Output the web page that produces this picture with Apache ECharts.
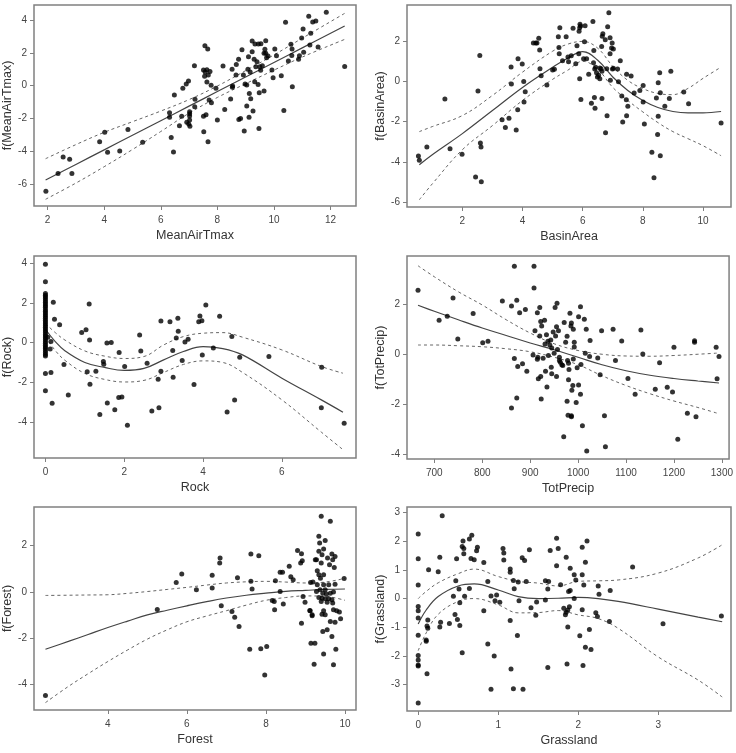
<!DOCTYPE html>
<html><head><meta charset="utf-8">
<script src="https://cdn.jsdelivr.net/npm/echarts@6/dist/echarts.min.js"></script>
<style>html,body{margin:0;padding:0;background:#fff}#c{width:736px;height:753px}</style>
</head><body><div id="c"></div>
<script>
// ---------- Panel 1: MeanAirTmax ----------
const airPts = [[1.94,-6.45],[2.37,-5.36],[2.55,-4.36],[2.78,-4.5],[2.86,-5.36],[3.84,-3.42],[4.02,-2.85],[4.12,-4.07],[4.55,-3.99],[4.84,-2.67],[5.36,-3.46],[6.31,-1.65],[6.31,-1.93],[6.37,-3.16],[6.45,-4.05],[6.48,-0.57],[6.66,-2.44],[6.74,-1.87],[6.78,-0.16],[6.9,0.1],[6.92,-2.24],[6.98,0.29],[6.99,-2.34],[7.02,-1.59],[7.02,-1.71],[7.02,-1.85],[7.02,-2.1],[7.03,-2.48],[7.19,1.22],[7.21,-0.83],[7.2,-1.28],[7.52,-2.81],[7.51,-1.87],[7.51,0.96],[7.55,0.57],[7.56,2.44],[7.57,0.83],[7.6,-1.77],[7.63,0.98],[7.63,0.22],[7.66,2.24],[7.67,-3.42],[7.68,0.65],[7.71,-0.88],[7.74,0.86],[7.78,0.02],[7.79,-1.04],[7.95,-0.16],[8.0,-2.1],[8.2,1.2],[8.26,-1.45],[8.47,-0.81],[8.52,1.0],[8.53,-0.1],[8.54,-0.02],[8.67,1.3],[8.66,0.65],[8.75,1.61],[8.76,-2.06],[8.82,-2.0],[8.87,2.2],[8.92,0.65],[8.95,-2.77],[8.98,0.1],[9.04,0.04],[9.04,-1.24],[9.1,1.77],[9.08,1.0],[9.12,-1.93],[9.13,-0.47],[9.16,0.83],[9.18,-0.79],[9.23,2.73],[9.23,2.08],[9.26,-1.55],[9.3,1.61],[9.32,0.24],[9.33,2.55],[9.36,1.16],[9.4,1.47],[9.44,0.08],[9.45,2.55],[9.47,-2.61],[9.48,-0.43],[9.5,1.16],[9.53,0.94],[9.54,2.57],[9.59,1.22],[9.65,1.98],[9.65,-0.33],[9.68,2.22],[9.71,2.75],[9.71,1.98],[9.74,1.71],[9.79,1.81],[9.93,0.96],[9.97,0.49],[10.03,2.24],[10.09,1.83],[10.26,0.61],[10.35,-1.51],[10.41,3.87],[10.51,1.51],[10.6,2.53],[10.63,1.85],[10.64,2.24],[10.65,-0.06],[10.87,1.61],[10.9,1.83],[10.98,2.91],[11.03,3.46],[11.05,2.04],[11.23,4.24],[11.27,2.49],[11.3,3.2],[11.37,3.89],[11.48,3.95],[11.56,2.36],[11.85,4.48],[12.5,1.18]];
const airCx  = [1.93, 3, 4, 5, 6, 7, 8, 9, 10, 11, 12.5];
const airFit = [-5.76, -4.81, -3.92, -3.03, -2.14, -1.25, -0.36, 0.53, 1.42, 2.31, 3.65];
const airUp  = [-4.46, -3.6, -2.85, -2.2, -1.55, -0.85, -0.02, 0.92, 1.88, 2.9, 4.42];
const airLo  = [-6.94, -5.95, -4.95, -3.9, -2.8, -1.68, -0.72, 0.12, 0.95, 1.75, 2.83];
const airXTicks = [2, 4, 6, 8, 10, 12];
const airYTicks = [-6, -4, -2, 0, 2, 4];

// ---------- Panel 2: BasinArea ----------
const basinPts = [[0.54,-3.71],[0.57,-3.93],[0.82,-3.27],[1.42,-0.88],[1.59,-3.35],[1.99,-3.62],[2.44,-4.76],[2.52,-0.48],[2.58,1.29],[2.6,-3.07],[2.62,-3.27],[2.63,-4.99],[3.32,-1.91],[3.43,-2.29],[3.55,-1.83],[3.62,0.71],[3.63,-0.13],[3.79,-2.42],[3.84,-1.41],[3.85,1.13],[3.99,0.86],[4.04,0.0],[4.05,-1.03],[4.09,-0.51],[4.36,1.91],[4.44,1.91],[4.48,1.91],[4.54,2.14],[4.57,1.56],[4.58,0.63],[4.62,0.28],[4.81,-0.18],[5.0,0.56],[5.06,0.6],[5.19,2.22],[5.22,1.38],[5.21,1.69],[5.24,2.67],[5.33,1.03],[5.45,2.22],[5.53,0.98],[5.51,1.21],[5.62,1.28],[5.68,2.64],[5.77,0.88],[5.81,1.77],[5.87,1.38],[5.88,2.5],[5.9,0.13],[5.9,2.67],[5.91,2.84],[5.94,-0.9],[5.93,2.75],[6.08,2.77],[6.06,1.97],[6.03,1.13],[6.13,1.13],[6.2,0.35],[6.29,-1.09],[6.34,2.98],[6.36,0.93],[6.39,-0.8],[6.37,1.54],[6.41,-1.34],[6.4,0.61],[6.43,0.7],[6.46,0.43],[6.49,0.22],[6.53,0.3],[6.57,0.66],[6.57,0.13],[6.61,0.63],[6.63,1.74],[6.64,0.5],[6.64,-0.85],[6.65,2.24],[6.67,2.37],[6.75,2.07],[6.76,-2.55],[6.8,0.63],[6.81,-1.71],[6.83,2.72],[6.87,3.42],[6.91,2.17],[6.91,1.38],[6.92,0.05],[6.96,1.66],[6.98,1.91],[6.99,0.61],[7.02,1.61],[7.02,0.65],[7.16,0.61],[7.19,-0.02],[7.25,1.03],[7.3,-0.73],[7.33,-2.02],[7.45,-0.91],[7.46,0.35],[7.46,-1.71],[7.5,-1.24],[7.61,0.27],[7.71,-0.58],[7.9,-0.45],[8.01,-0.2],[8.01,-1.03],[8.05,-2.12],[8.3,-3.53],[8.37,-4.79],[8.45,-0.83],[8.49,-2.64],[8.51,-1.74],[8.51,-0.07],[8.56,0.43],[8.58,-3.7],[8.58,-0.56],[8.73,-1.24],[8.88,-0.85],[8.93,0.51],[9.36,-0.53],[9.52,-1.11],[10.6,-2.07]];
const basinCx  = [0.57, 1, 2, 3, 4, 5, 5.5, 6, 6.5, 7, 7.5, 8, 8.5, 9, 9.5, 10, 10.6];
const basinFit = [-4.15, -3.65, -2.6, -1.45, -0.3, 0.7, 1.15, 1.48, 1.05, 0.22, -0.45, -0.95, -1.3, -1.5, -1.57, -1.57, -1.5];
const basinUp  = [-2.5, -2.25, -1.7, -0.7, 0.46, 1.5, 1.85, 1.99, 1.65, 0.75, 0.05, -0.36, -0.6, -0.66, -0.35, 0.15, 0.71];
const basinLo  = [-5.89, -5.1, -3.4, -2.2, -0.95, 0.1, 0.55, 1.0, 0.6, -0.3, -0.95, -1.52, -2.05, -2.5, -2.85, -3.2, -3.7];
const basinXTicks = [2, 4, 6, 8, 10];
const basinYTicks = [-6, -4, -2, 0, 2];

// ---------- Panel 3: Rock ----------
const rockZeroY = [3.93, 3.05, 2.47, 2.38, 2.3, 2.21, 2.12, 2.02, 1.94, 1.85, 1.77, 1.66, 1.58, 1.49, 1.4, 1.31, 1.22, 1.12, 1.03, 0.95, 0.86, 0.77, 0.68, 0.6, 0.5, 0.41, 0.33, 0.24, 0.15, 0.06, -0.03, -0.13, -0.22, -0.3, -0.4, -0.5, -0.6, -0.68, -1.55, -2.42];
const rockPts = [[0.06,0.27],[0.12,-0.32],[0.14,0.05],[0.14,-1.51],[0.17,-3.05],[0.2,2.02],[0.23,1.17],[0.36,0.9],[0.47,-1.1],[0.58,-2.64],[0.92,0.5],[1.03,0.65],[1.06,-1.46],[1.11,1.94],[1.12,0.13],[1.13,-2.1],[1.28,-1.44],[1.38,-3.61],[1.47,-0.95],[1.48,-1.09],[1.56,-0.02],[1.57,-3.04],[1.67,0.0],[1.76,-3.38],[1.87,-0.5],[1.86,-2.76],[1.94,-2.73],[2.01,-1.2],[2.08,-4.16],[2.39,0.38],[2.42,-0.42],[2.58,-1.04],[2.7,-3.44],[2.86,-1.84],[2.88,-3.28],[2.93,-1.44],[2.93,1.09],[3.16,1.04],[3.23,-0.4],[3.24,-1.74],[3.32,0.23],[3.36,1.22],[3.37,0.57],[3.47,-0.9],[3.54,0.03],[3.62,0.17],[3.77,-2.11],[3.89,1.05],[3.92,1.34],[3.97,1.1],[3.98,-0.62],[4.07,1.89],[4.26,-0.27],[4.42,1.32],[4.61,-3.49],[4.73,0.3],[4.8,-2.89],[4.93,-0.74],[5.67,-0.7],[7.01,-1.24],[7.0,-3.28],[7.58,-4.05]];
const rockCx  = [0, 0.25, 0.5, 1, 1.5, 2, 2.5, 3, 3.5, 4, 4.5, 5, 6, 7, 7.55];
const rockFit = [0.67, 0.05, -0.42, -1.0, -1.25, -1.4, -1.3, -0.87, -0.45, -0.2, -0.3, -0.62, -1.79, -2.88, -3.5];
const rockUp  = [0.96, 0.5, 0.12, -0.42, -0.68, -0.8, -0.7, -0.12, 0.3, 0.47, 0.5, 0.27, -0.37, -1.2, -1.54];
const rockLo  = [0.29, -0.4, -0.9, -1.55, -1.85, -1.98, -1.9, -1.5, -1.1, -0.92, -1.0, -1.5, -2.88, -4.5, -5.38];
const rockXTicks = [0, 2, 4, 6];
const rockYTicks = [-4, -2, 0, 2, 4];

// ---------- Panel 4: TotPrecip ----------
const precipPts = [[666,2.56],[710,1.36],[727,1.52],[739,2.25],[749,0.61],[781,1.63],[801,0.46],[812,0.52],[842,2.13],[861,1.93],[861,-2.15],[867,3.52],[867,-0.17],[872,2.16],[872,-1.75],[874,-0.49],[878,1.66],[884,-0.38],[890,1.79],[893,-0.68],[906,-0.03],[908,3.52],[908,2.65],[910,0.94],[915,1.66],[916,-0.12],[915,-0.2],[917,-0.98],[920,1.87],[920,0.73],[922,1.31],[922,-0.89],[923,-1.79],[924,1.13],[927,-0.16],[930,1.36],[931,0.41],[932,-0.68],[934,0.78],[935,-1.31],[937,0.52],[938,-0.05],[941,0.37],[943,0.57],[944,-0.52],[945,-0.78],[945,0.25],[948,0.89],[950,0.04],[952,1.87],[953,0.73],[955,-0.89],[955,1.1],[956,2.04],[957,0.19],[959,0.94],[961,-0.12],[961,-0.25],[963,-0.32],[966,-0.42],[968,-0.45],[970,-3.3],[971,1.27],[974,0.48],[977,0.72],[977,-1.88],[978,-0.25],[979,-2.44],[980,-1.02],[980,-0.36],[981,-0.61],[983,1.64],[985,1.13],[986,-2.46],[986,-2.5],[986,1.25],[987,-1.44],[989,-1.25],[990,1.0],[990,-0.19],[992,0.48],[992,0.29],[996,-1.93],[998,-0.54],[1001,-1.23],[1001,1.5],[1005,1.9],[1005,-1.6],[1006,-0.41],[1009,-2.86],[1013,1.4],[1015,0.04],[1017,1.0],[1018,-3.87],[1024,-0.09],[1025,0.55],[1041,-0.15],[1046,-0.82],[1049,0.94],[1055,-2.46],[1057,-3.7],[1073,1.0],[1078,-0.25],[1091,0.53],[1104,-0.97],[1119,-1.6],[1131,0.97],[1135,0.01],[1161,-1.4],[1170,-0.34],[1186,-1.32],[1197,-1.51],[1200,0.28],[1208,-3.4],[1228,-2.36],[1243,0.54],[1243,0.48],[1246,-2.5],[1288,0.28],[1290,-0.98],[1294,-0.09]];
const precipCx  = [666, 700, 750, 800, 850, 900, 950, 1000, 1050, 1100, 1150, 1200, 1250, 1294];
const precipFit = [1.96, 1.72, 1.38, 1.05, 0.75, 0.45, 0.18, -0.12, -0.42, -0.66, -0.84, -0.97, -1.07, -1.15];
const precipUp  = [3.54, 3.1, 2.5, 1.97, 1.38, 0.85, 0.42, 0.15, 0.0, -0.07, -0.08, -0.05, 0.0, 0.05];
const precipLo  = [0.37, 0.37, 0.34, 0.3, 0.22, 0.1, -0.12, -0.42, -0.86, -1.25, -1.58, -1.87, -2.13, -2.38];
const precipXTicks = [700, 800, 900, 1000, 1100, 1200, 1300];
const precipYTicks = [-4, -2, 0, 2];

// ---------- Panel 5: Forest ----------
const forestPts = [[2.42,-4.49],[5.25,-0.77],[5.73,0.4],[5.87,0.77],[6.24,0.09],[6.64,0.72],[6.64,0.16],[6.83,1.24],[6.84,1.46],[6.87,-0.61],[7.14,-0.85],[7.21,-1.1],[7.28,0.61],[7.32,-1.5],[7.59,-2.49],[7.62,1.63],[7.62,0.45],[7.65,0.12],[7.82,1.56],[7.87,-2.47],[7.97,-3.6],[8.02,-2.37],[8.16,-0.38],[8.21,-0.42],[8.24,0.48],[8.22,-0.78],[8.36,0.85],[8.36,0.01],[8.42,0.84],[8.44,-0.53],[8.59,1.1],[8.63,0.65],[8.69,0.52],[8.8,1.79],[8.88,1.24],[8.92,1.34],[8.9,1.65],[8.9,-1.36],[8.94,-0.2],[8.99,-0.45],[9.11,-0.81],[9.13,0.4],[9.14,-2.23],[9.17,-1.04],[9.22,-3.14],[9.24,-2.23],[9.25,1.39],[9.28,0.01],[9.4,3.27],[9.63,3.05],[9.34,2.4],[9.5,2.22],[9.36,2.11],[9.46,1.85],[9.34,1.75],[9.42,1.6],[9.67,1.63],[9.75,1.53],[9.56,1.46],[9.69,1.39],[9.28,1.39],[9.4,1.24],[9.61,1.17],[9.73,1.05],[9.3,0.91],[9.34,0.74],[9.46,0.74],[9.38,0.59],[9.98,0.57],[9.19,0.42],[9.3,0.3],[9.46,0.3],[9.59,0.3],[9.75,0.33],[9.37,0.09],[9.5,0.09],[9.44,-0.06],[9.53,-0.1],[9.63,-0.06],[9.71,-0.01],[9.34,-0.25],[9.42,-0.28],[9.5,-0.3],[9.59,-0.3],[9.67,-0.35],[9.4,-0.42],[9.55,-0.45],[9.69,-0.49],[9.12,-0.82],[9.46,-0.82],[9.71,-0.78],[9.79,-0.82],[9.86,-0.88],[9.42,-0.97],[9.5,-1.0],[9.17,-1.0],[9.63,-1.29],[9.75,-1.32],[9.89,-1.17],[9.55,-1.65],[9.44,-1.72],[9.67,-1.94],[9.77,-2.49],[9.46,-2.69],[9.71,-3.16]];
const forestCx  = [2.42, 3, 3.5, 4, 4.5, 5, 5.5, 6, 6.5, 7, 7.5, 8, 8.5, 9, 9.5, 10];
const forestFit = [-2.49, -2.15, -1.85, -1.55, -1.27, -1.0, -0.8, -0.61, -0.43, -0.27, -0.15, -0.06, 0.02, 0.06, 0.1, 0.12];
const forestUp  = [-0.16, -0.15, -0.14, -0.13, -0.07, 0.01, 0.1, 0.19, 0.29, 0.38, 0.43, 0.45, 0.42, 0.38, 0.42, 0.58];
const forestLo  = [-4.8, -4.1, -3.55, -3.02, -2.52, -2.05, -1.65, -1.3, -1.05, -0.82, -0.58, -0.37, -0.25, -0.18, -0.2, -0.37];
const forestXTicks = [4, 6, 8, 10];
const forestYTicks = [-4, -2, 0, 2];

// ---------- Panel 6: Grassland ----------
const grassPts = [[0,2.26],[0,1.39],[0,0.47],[0,-0.28],[0,-0.43],[0,-0.68],[0,-1.28],[0,-1.99],[0,-2.15],[0,-2.32],[0,-2.36],[0,-3.65],[0.11,-2.63],[0.1,-1.45],[0.1,-1.49],[0.11,-0.96],[0.12,-1.04],[0.12,-0.75],[0.13,1.01],[0.25,0.94],[0.27,1.44],[0.27,-0.99],[0.28,-0.83],[0.3,2.89],[0.39,-0.87],[0.44,0.08],[0.46,-0.56],[0.47,0.62],[0.48,1.39],[0.49,-0.73],[0.51,0.33],[0.52,-0.15],[0.52,-0.94],[0.55,-1.89],[0.55,1.82],[0.56,2.01],[0.57,1.75],[0.57,1.57],[0.58,0.08],[0.64,0.35],[0.64,2.08],[0.66,1.4],[0.67,2.21],[0.7,1.36],[0.73,1.67],[0.74,1.79],[0.82,-0.43],[0.82,1.26],[0.87,-1.59],[0.87,0.6],[0.91,0.09],[0.91,-3.17],[0.95,-2.01],[0.96,-0.08],[0.98,0.12],[1.02,-0.13],[1.06,1.75],[1.07,1.59],[1.07,1.35],[1.15,1.03],[1.15,0.92],[1.15,-0.77],[1.16,-2.46],[1.19,0.63],[1.19,-3.15],[1.2,0.34],[1.24,-1.29],[1.25,0.58],[1.26,-0.08],[1.3,1.43],[1.31,-3.17],[1.33,1.33],[1.35,0.6],[1.39,1.71],[1.41,-0.32],[1.47,-0.58],[1.48,-0.12],[1.59,0.62],[1.59,-0.05],[1.62,-2.41],[1.62,0.33],[1.63,0.6],[1.65,1.68],[1.73,2.11],[1.73,1.15],[1.75,1.75],[1.78,0.48],[1.82,-0.34],[1.84,-0.57],[1.85,-0.48],[1.85,1.44],[1.86,-2.29],[1.87,-0.99],[1.87,-0.4],[1.88,0.25],[1.89,-0.29],[1.9,1.06],[1.9,0.28],[1.95,0.0],[1.95,0.83],[1.97,0.65],[2.02,-1.3],[2.05,-0.39],[2.05,0.83],[2.05,1.79],[2.06,-2.34],[2.07,0.47],[2.09,1.27],[2.09,-1.7],[2.11,2.01],[2.14,-1.08],[2.16,-1.78],[2.22,-0.5],[2.24,-0.63],[2.25,0.44],[2.26,0.15],[2.39,-0.8],[2.4,0.28],[2.68,1.1],[3.06,-0.88],[3.79,-0.61]];
const grassCx  = [0, 0.1, 0.25, 0.5, 0.7, 1.0, 1.25, 1.5, 1.75, 2.0, 2.25, 2.5, 3.0, 3.5, 3.8];
const grassFit = [-0.89, -0.4, 0.07, 0.44, 0.51, 0.3, 0.07, 0.0, 0.01, 0.04, 0.0, -0.1, -0.37, -0.65, -0.81];
const grassUp  = [0.0, 0.25, 0.55, 0.87, 1.03, 0.77, 0.6, 0.54, 0.44, 0.6, 0.62, 0.65, 0.89, 1.42, 1.88];
const grassLo  = [-1.82, -1.2, -0.55, -0.1, 0.0, -0.22, -0.5, -0.49, -0.42, -0.57, -0.7, -1.04, -2.04, -2.85, -3.44];
const grassXTicks = [0, 1, 2, 3];
const grassYTicks = [-3, -2, -1, 0, 1, 2, 3];

// ---------- Layout / axes ----------
const panels = [
  {xName:'MeanAirTmax', yName:'f(MeanAirTmax)', pts:airPts, cx:airCx, fit:airFit, up:airUp, lo:airLo, xt:airXTicks, yt:airYTicks, xr:[1.52,12.9], yr:[-7.35,4.93], g:{left:29,top:5,width:327,height:201}},
  {xName:'BasinArea', yName:'f(BasinArea)', pts:basinPts, cx:basinCx, fit:basinFit, up:basinUp, lo:basinLo, xt:basinXTicks, yt:basinYTicks, xr:[0.16,10.93], yr:[-6.25,3.8], g:{left:407,top:5,width:324,height:202}},
  {xName:'Rock', yName:'f(Rock)', pts:rockZeroY.map(v=>[0,v]).concat(rockPts), cx:rockCx, fit:rockFit, up:rockUp, lo:rockLo, xt:rockXTicks, yt:rockYTicks, xr:[-0.29,7.88], yr:[-5.8,4.35], g:{left:29,top:256,width:327,height:202}},
  {xName:'TotPrecip', yName:'f(TotPrecip)', pts:precipPts, cx:precipCx, fit:precipFit, up:precipUp, lo:precipLo, xt:precipXTicks, yt:precipYTicks, xr:[643,1315], yr:[-4.19,3.93], g:{left:407,top:256,width:325,height:203}},
  {xName:'Forest', yName:'f(Forest)', pts:forestPts, cx:forestCx, fit:forestFit, up:forestUp, lo:forestLo, xt:forestXTicks, yt:forestYTicks, xr:[2.13,10.28], yr:[-5.12,3.67], g:{left:29,top:507,width:327,height:203}},
  {xName:'Grassland', yName:'f(Grassland)', pts:grassPts, cx:grassCx, fit:grassFit, up:grassUp, lo:grassLo, xt:grassXTicks, yt:grassYTicks, xr:[-0.14,3.91], yr:[-3.93,3.2], g:{left:407,top:507,width:324,height:204}}
];

const FONT = 'Liberation Sans, Arial, sans-serif';
const fmt = v => String(v);
const grid = [], xAxis = [], yAxis = [], series = [];
panels.forEach((p, i) => {
  grid.push(Object.assign({show:true, borderColor:'#808080', borderWidth:1.5, backgroundColor:'#fff', containLabel:false}, p.g));
  xAxis.push({
    type:'value', gridIndex:i, min:p.xr[0], max:p.xr[1], position:'bottom',
    name:p.xName, nameLocation:'middle', nameGap:23,
    nameTextStyle:{fontFamily:FONT, fontSize:12.5, color:'#333'},
    axisLine:{show:false, onZero:false}, splitLine:{show:false},
    axisTick:{show:true, length:4, lineStyle:{color:'#808080'}, customValues:p.xt},
    axisLabel:{show:true, margin:9, fontFamily:FONT, fontSize:10, color:'#444', customValues:p.xt, formatter:fmt}
  });
  yAxis.push({
    type:'value', gridIndex:i, min:p.yr[0], max:p.yr[1], position:'left',
    name:p.yName, nameLocation:'middle', nameGap:20,
    nameTextStyle:{fontFamily:FONT, fontSize:12.5, color:'#333'},
    axisLine:{show:false, onZero:false}, splitLine:{show:false},
    axisTick:{show:true, length:4, lineStyle:{color:'#808080'}, customValues:p.yt},
    axisLabel:{show:true, margin:7, fontFamily:FONT, fontSize:10, color:'#444', customValues:p.yt, formatter:fmt}
  });
  const mk = (arr) => p.cx.map((x, k) => [x, arr[k]]);
  series.push({type:'line', xAxisIndex:i, yAxisIndex:i, data:mk(p.up), smooth:0.4, symbol:'none', silent:true,
    lineStyle:{color:'#666', width:1, type:[3,3]}, z:3});
  series.push({type:'line', xAxisIndex:i, yAxisIndex:i, data:mk(p.lo), smooth:0.4, symbol:'none', silent:true,
    lineStyle:{color:'#666', width:1, type:[3,3]}, z:3});
  series.push({type:'line', xAxisIndex:i, yAxisIndex:i, data:mk(p.fit), smooth:0.4, symbol:'none', silent:true,
    lineStyle:{color:'#444', width:1.2}, z:4});
  series.push({type:'scatter', xAxisIndex:i, yAxisIndex:i, data:p.pts, symbolSize:5, silent:true,
    itemStyle:{color:'#000'}, z:5});
});

const chart = echarts.init(document.getElementById('c'), null, {renderer:'canvas'});
chart.setOption({animation:false, backgroundColor:'#fff', grid, xAxis, yAxis, series});
</script>
</body></html>
